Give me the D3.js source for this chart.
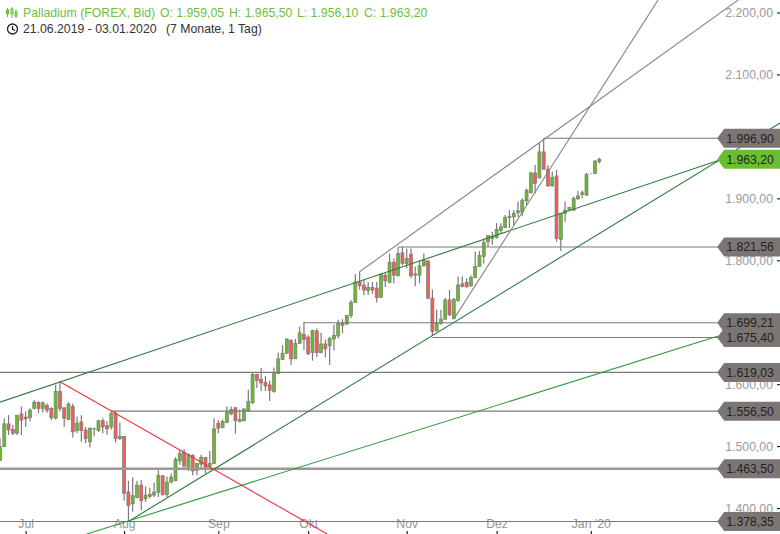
<!DOCTYPE html>
<html>
<head>
<meta charset="utf-8">
<script src="https://d3js.org/d3.v7.min.js"></script>
<style>
  html, body { margin: 0; padding: 0; background: #fff; }
  svg { display: block; }
  text { font-family: "Liberation Sans", sans-serif; font-size: 12.25px; }
</style>
</head>
<body>
<script>
// daily bars, 21.06.2019 - 03.01.2020
const opens = [1477,1499,1536,1527,1521,1552,1547,1546,1561,1571,1561,1566,1561,1545,1588,1562,1543,1564,1525,1539,1526,1507,1527.7,1525,1541,1533,1531,1553,1512,1516,
  1426,1407,1417,1437,1415,1419,1421,1425,1452,1422,1442,1444,1476,1490,1464,1485,1461,1471,1482,1468,1472,1537,1530,1538,1552,1562,1540,1541,1557,1570,
  1616,1608,1603,1599,1588,1617,1640,1650,1671,1641,1666,1680,1676,1651,1686,1651,1665,1662,1673,1678,1698,1697,1711,1732,1765.5,1760,1751,1756,1755,1740,
  1776,1764,1797,1775,1812,1795,1810,1776,1776,1791,1799,1739,1686,1698,1705,1736,1706,1735,1762,1764,1759,1772,1790,1806,1830,1835,1837,1848,1853,1869,
  1870,1877,1878,1896,1909,1941,1933,1975,1947,1920,1936,1834,1876,1881,1881,1899,1906,1905,1940,1940,1959.05];
const highs = [1513,1545,1550,1534,1550,1564,1556,1561,1574,1572,1572,1569,1563,1599,1604,1562,1571,1569,1548,1550,1531,1530,1530,1542,1545,1540,1556,1557,1538,1516,
  1444,1450,1444,1445,1435,1433,1441,1461,1453,1451,1456,1482,1494,1495,1488,1487,1473,1486,1482,1492,1545,1542,1543,1564,1564,1563,1559,1561,1591,1620,
  1617,1626,1613,1606,1627,1651,1663,1674,1672,1673,1693,1701,1679,1688,1690,1683,1672,1676,1696,1704,1705,1712,1736,1778,1782,1768,1765,1765,1765,1780,
  1780,1811,1803,1821,1822,1819,1819,1790,1800,1811,1800,1753,1720,1720,1739,1752,1739,1774,1774,1771,1776,1814,1815,1835,1840,1846,1860,1860,1873,1881,
  1881,1895,1900,1916,1943,1954,1989,1996.9,1954,1943,1946,1876,1895,1886,1903,1912,1913,1941,1941,1962,1965.5];
const lows = [1476,1499,1518,1518,1518,1518,1531,1540,1559,1553,1554,1554,1542,1543,1556,1531,1542,1514,1521,1507,1505,1498,1516,1523,1521,1518,1527,1506,1510,1412,
  1378.35,1394,1416,1397,1410,1416,1418,1418,1420,1418,1440,1444,1470,1461,1460,1453,1453,1464,1456,1464,1471,1521,1529,1537,1550,1520,1538,1540,1556,1568,
  1594,1589,1589,1573,1586,1617,1639,1649,1631,1641,1665,1655,1647,1638,1644,1650,1643,1631,1655,1674,1682,1696,1707,1731,1753,1744,1744,1746,1732,1739,
  1757,1763,1763,1774,1792,1787,1771,1758,1763,1790,1737,1678,1685,1696,1704,1710,1705,1733,1756,1756,1757,1771,1789,1795,1822,1825,1835,1844,1852,1852,
  1857,1870,1871,1889,1908,1908,1932,1947,1919,1919,1830,1815,1862,1880,1880,1898,1900,1905,1939,1939,1956.1];
const closes = [1499,1536,1526,1521,1550,1542,1544,1558,1571,1561,1570,1558,1546,1588.5,1561,1545,1568,1523,1537,1525,1512,1529,1528,1541,1531,1528,1553,1512,1516,1424,
  1404,1420,1437,1412,1421,1422,1426,1453,1422,1442,1450,1479,1488,1468,1486,1460,1472,1482,1464,1472,1528,1529,1540,1555,1559,1541,1543,1560,1572,1616,
  1606,1602,1597,1590,1619,1641,1650,1673,1641,1666,1683,1672,1649,1687,1651,1665,1657,1674,1679,1698,1695,1711,1732,1765,1759,1752,1756,1752,1740,1777,
  1767,1797,1776,1811,1795,1803,1775,1778,1791,1800,1739,1685,1699,1705,1736,1712,1737,1760,1758,1757,1772,1790,1808,1829,1840,1839,1850,1854,1869,1871,
  1876,1880,1897,1913,1941,1924,1975,1947,1920,1934,1835,1876,1881,1885,1900,1904,1909,1939,1940,1960,1963.2];

// 1.700 and 2.000 sit fully under the price tags, so they are left out
const yTicks = [1400,1500,1600,1800,1900,2100,2200];
const monthNames = ["Jul","Aug","Sep","Okt","Nov","Dez","Jan '20"];
const monthBars = [6,29,51,72,95,116,138];

// horizontal levels: [price, first bar]
const levelPrices = [1996.9,1821.56,1699.21,1675.4,1619.03,1556.5,1463.5,1378.35];
const levelStarts = [127,93,71,101,0,26,0,0];

// trend lines: bar index / price at both ends
const trendNames = ["res","sup","long","fall","chanUp","chanSteep"];
const trendBars = [[0,167.76],[30,182.2],[20.26,167.76],[14,76.4],[84,172.4],[106,153.7]];
const trendPrices = [[1571,1961],[1378.35,2021.6],[1358.2,1677.8],[1604,1358.2],[1781.6,2220],[1705,2220]];
const trendColors = {res:"#2f7d3c",sup:"#2f7d3c",long:"#2c9c3e",fall:"#f2303c",chanUp:"#8a8583",chanSteep:"#8a8583"};

const width = 780, height = 534;
const tagX = 167.76; // bar index where the price tags start

const de = d3.formatLocale({decimal:",",thousands:".",grouping:[3],currency:["","€"]});
const price = de.format(",.2f");

const x = d3.scaleLinear().domain([0,182.2]).range([0,width]);
const y = d3.scaleLinear().domain([1400,2200]).range([508.1,12.5]);

const svg = d3.select("body").append("svg")
  .attr("width",width)
  .attr("height",height);

// price axis, drawn first so the tags can sit over it
const yAxis = svg.append("g")
  .attr("transform","translate(777,0)")
  .call(d3.axisRight(y).tickValues(yTicks).tickFormat(price).tickSize(3).tickPadding(0));
yAxis.select(".domain").remove();
yAxis.selectAll("line").attr("stroke","#000");
yAxis.selectAll("text")
  .attr("x",-4)
  .attr("text-anchor","end")
  .attr("fill","#9a9a9a")
  .style("font-size","12.25px")
  .style("font-family","'Liberation Sans', sans-serif");

// month axis
const xAxis = svg.append("g")
  .attr("transform","translate(0,531)")
  .call(d3.axisBottom(x).tickValues(monthBars).tickFormat((d,i)=>monthNames[i]).tickSize(3).tickPadding(0));
xAxis.select(".domain").remove();
xAxis.selectAll("line").attr("stroke","#000");
xAxis.selectAll("text")
  .attr("y",-3)
  .attr("dy",0)
  .attr("fill","#969696")
  .style("font-size","12.25px")
  .style("font-family","'Liberation Sans', sans-serif");

// candles
const bars = d3.range(opens.length);
const candles = svg.append("g");
candles.selectAll("line").data(bars).join("line")
  .attr("x1",i=>x(i)).attr("x2",i=>x(i))
  .attr("y1",i=>y(highs[i])).attr("y2",i=>y(lows[i]))
  .attr("stroke","#7c7a78")
  .attr("stroke-width",1.2);
candles.selectAll("rect").data(bars).join("rect")
  .attr("x",i=>x(i)-1.5)
  .attr("width",3)
  .attr("y",i=>y(Math.max(opens[i],closes[i])))
  .attr("height",i=>Math.abs(y(opens[i])-y(closes[i])))
  .attr("fill",i=>closes[i]>=opens[i]?"#68bb2c":"#f25c5c")
  .attr("stroke","#7c7a78")
  .attr("stroke-width",0.7);

// levels
svg.append("g").selectAll("line").data(levelPrices).join("line")
  .attr("x1",(d,i)=>x(levelStarts[i]))
  .attr("x2",x(tagX))
  .attr("y1",d=>y(d)).attr("y2",d=>y(d))
  .attr("stroke",d=>d===1463.5?"#9c9895":"#7c7a78")
  .attr("stroke-width",d=>d===1463.5?2.4:1.1);

// trend lines
svg.append("g").selectAll("line").data(trendNames).join("line")
  .attr("x1",(d,i)=>x(trendBars[i][0]))
  .attr("x2",(d,i)=>x(trendBars[i][1]))
  .attr("y1",(d,i)=>y(trendPrices[i][0]))
  .attr("y2",(d,i)=>y(trendPrices[i][1]))
  .attr("stroke",d=>trendColors[d])
  .attr("stroke-width",1.1);

// price tags
const tagPrices = levelPrices.concat([closes[closes.length-1]]);
const tags = svg.append("g").selectAll("g").data(tagPrices).join("g")
  .attr("transform",d=>`translate(${x(tagX)},${y(d)})`);
tags.append("path")
  .attr("d","M-1,0L6,-9.5L64,-9.5L64,9.5L6,9.5Z")
  .attr("fill",d=>d===1963.2?"#69bf33":"#7b7674");
tags.append("text")
  .attr("x",8)
  .attr("dy","0.36em")
  .attr("fill","#222")
  .text(price);

// header
const header = svg.append("g");
const green = "#6cbf3c";
header.append("text").attr("x",23).attr("y",17).attr("fill",green).text("Palladium (FOREX, Bid)");
const last = opens.length-1;
const ohlc = [["O",opens[last],160],["H",highs[last],229],["L",lows[last],297],["C",closes[last],364]];
header.selectAll(".ohlc").data(ohlc).join("text")
  .attr("class","ohlc")
  .attr("x",d=>d[2]).attr("y",17)
  .attr("fill",green)
  .text(d=>`${d[0]}: ${price(d[1])}`);
header.append("text").attr("x",23).attr("y",33).attr("fill","#333").text("21.06.2019 - 03.01.2020");
header.append("text").attr("x",166).attr("y",33).attr("fill","#333").text("(7 Monate, 1 Tag)");

// little candle icon
const icon = header.append("g").attr("stroke",green).attr("fill","none");
icon.append("path").attr("d","M7.5,8V17M12,7V18M16,9V18");
icon.append("rect").attr("x",6.5).attr("y",10).attr("width",2).attr("height",4);
icon.append("rect").attr("x",11).attr("y",9).attr("width",2).attr("height",5);
icon.append("rect").attr("x",15).attr("y",12).attr("width",2).attr("height",4);

// clock icon
const clock = header.append("g").attr("stroke","#222").attr("fill","none").attr("stroke-width",1.3);
clock.append("circle").attr("cx",12.5).attr("cy",29).attr("r",5);
clock.append("path").attr("d","M12.5,26V29.3L15,30.5");
</script>
</body>
</html>
